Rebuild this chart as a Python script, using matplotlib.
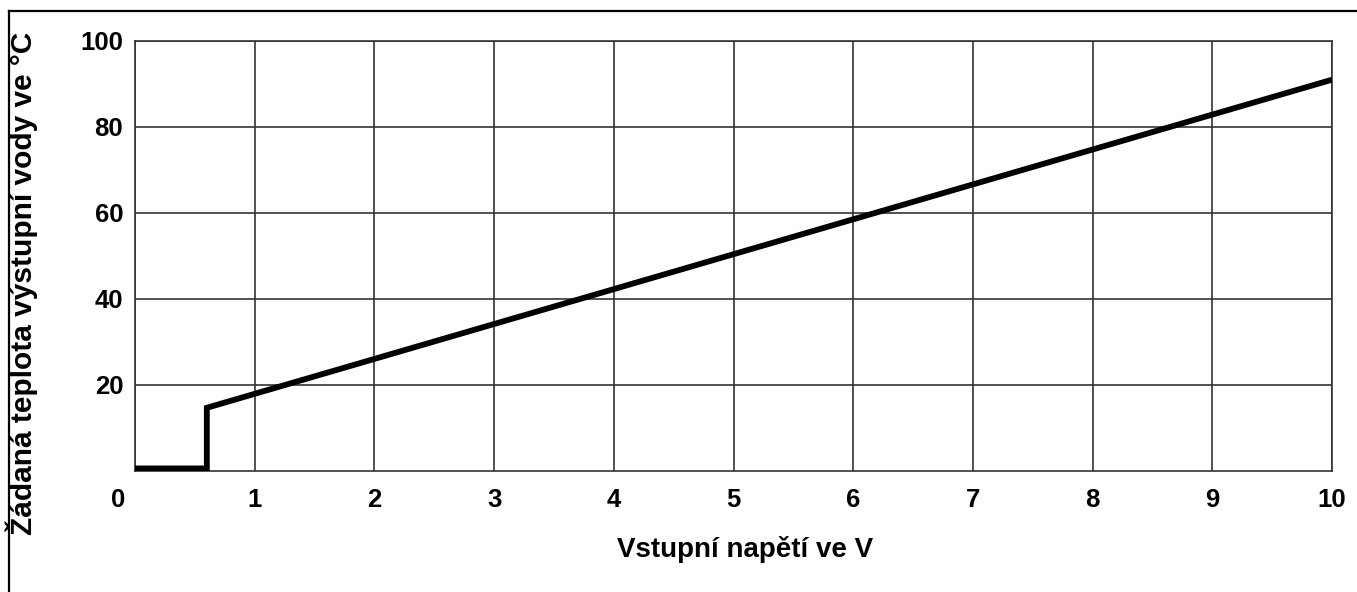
import matplotlib
matplotlib.use("Agg")
import matplotlib.pyplot as plt
from matplotlib.lines import Line2D
import matplotlib.transforms as mtransforms

# Data
voltage = [0.0, 0.6, 0.6, 10.0]
temperature = [0.6, 0.6, 14.7, 91.0]
x_ticks = [0, 1, 2, 3, 4, 5, 6, 7, 8, 9, 10]
y_ticks = [20, 40, 60, 80, 100]
x_label = "Vstupní napětí ve V"
y_label = "Žádaná teplota výstupní vody ve °C"

plt.rcParams['font.family'] = ['Liberation Sans', 'DejaVu Sans']

W, H = 1357, 592
fig = plt.figure(figsize=(W / 100, H / 100), dpi=100)
ax = fig.add_axes([135 / W, 1 - 471 / H, (1332 - 135) / W, (471 - 41) / H])

ax.plot(voltage, temperature, color='black', lw=4.2, solid_joinstyle='miter',
        solid_capstyle='butt', zorder=3)

ax.set_xlim(0, 10)
ax.set_ylim(0, 100)
ax.set_xticks(x_ticks)
ax.set_yticks(y_ticks)
ax.set_xticklabels([str(t) for t in x_ticks], fontsize=18.5, fontweight='bold')
ax.set_yticklabels([str(t) for t in y_ticks], fontsize=18.5, fontweight='bold')
ax.tick_params(axis='both', length=0)
ax.tick_params(axis='x', pad=12)
ax.tick_params(axis='y', pad=8.5)
ax.grid(True, color='#333333', lw=1.2)
for s in ax.spines.values():
    s.set_color('#333333')
    s.set_linewidth(1.2)

# shift the "0" label slightly left as in the reference
lbl0 = ax.get_xticklabels()[0]
lbl0.set_transform(lbl0.get_transform() +
                   mtransforms.ScaledTranslation(-17 / 100, 0, fig.dpi_scale_trans))

fig.text(745 / W, 1 - 557 / H, x_label, fontsize=20, fontweight='bold',
         ha='center', va='baseline')
fig.text(22 / W, 1 - 283 / H, y_label, rotation=90, fontsize=21.5,
         fontweight='bold', ha='center', va='center')

# outer frame (left and top visible)
fig.add_artist(Line2D([9 / W, 9 / W], [0, 1 - 11 / H], color='black', lw=1.6,
                      transform=fig.transFigure))
fig.add_artist(Line2D([9 / W, 1], [1 - 11 / H, 1 - 11 / H], color='black', lw=1.6,
                      transform=fig.transFigure))

fig.savefig("out.png", dpi=100)
